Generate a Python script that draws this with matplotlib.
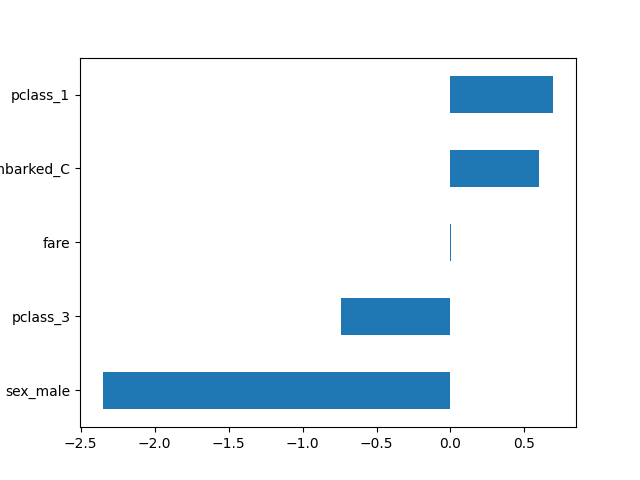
import pandas as pd
import matplotlib
matplotlib.use('Agg')
import matplotlib.pyplot as plt

features = ['sex_male', 'pclass_3', 'fare', 'embarked_C', 'pclass_1']
coefs = [-2.352, -0.743, 0.004, 0.595, 0.696]

s = pd.Series(coefs, index=features)
fig = plt.figure(figsize=(6.4, 4.8), dpi=100)
s.plot(kind='barh')
plt.savefig('out.png')
